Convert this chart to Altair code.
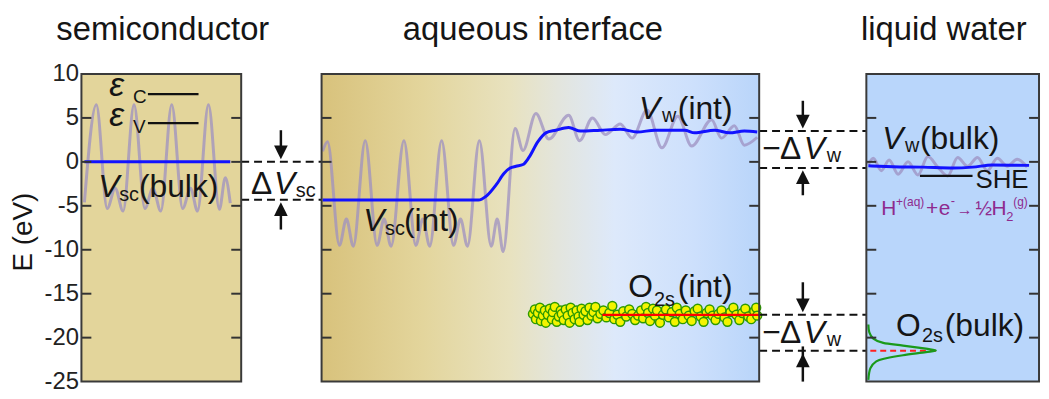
import altair as alt
import pandas as pd

FONT = "Liberation Sans"

# ---------------- data ----------------
tick_values = [10, 5, 0, -5, -10, -15, -20, -25]
inner_ticks = [5, 0, -5, -10, -15, -20]

# panel extents along the schematic position axis
panel_x0 = [82, 324, 873]
panel_x1 = [243, 765, 1047]

# semiconductor bulk: oscillating potential and its average
sc_osc_x = [85, 97, 108, 116, 124, 135, 146, 154, 162, 173, 184, 192, 199, 210, 221, 227, 232]
sc_osc_e = [-4.6, 6.5, -5.3, -3.0, -5.6, 6.5, -5.3, -3.0, -5.6, 6.5, -5.3, -3.0, -5.6, 6.5, -5.4, -1.8, -4.7]
sc_avg_x = [85, 232]
sc_avg_e = [0.0, 0.0]

# aqueous interface
int_osc_x = [325, 330, 342, 349, 356, 368, 380, 387, 394, 407, 419, 426, 433, 445, 457, 464, 471,
             483, 495, 501, 507, 519, 527, 540, 553, 573, 584, 597, 610, 625, 637, 652, 667, 683,
             697, 717, 727, 740, 750, 763]
int_osc_e = [1.2, 2.3, -9.5, -6.5, -9.6, 2.4, -9.5, -6.5, -9.6, 2.4, -9.5, -6.5, -9.6, 2.4, -9.5, -6.5, -9.6,
             2.4, -9.6, -6.5, -10.2, 3.8, 1.3, 5.5, 2.6, 5.3, 2.4, 5.0, 3.1, 4.3, 2.7, 5.9, 1.6, 5.2,
             1.8, 4.8, 2.7, 4.1, 1.9, 2.8]
int_avg_x = [325, 482, 490, 500, 508, 514, 520, 527, 533, 542, 550, 560, 573, 585, 605, 625, 642, 660,
             690, 700, 720, 735, 750, 763]
int_avg_e = [-4.35, -4.35, -3.9, -2.6, -1.3, -0.7, -0.5, -0.3, 0.5, 2.3, 3.3, 3.6, 3.9, 3.5, 3.6, 3.7,
             3.4, 3.6, 3.6, 3.3, 3.6, 3.3, 3.5, 3.4]

# liquid water bulk
w_osc_x = [875, 880, 888, 896, 905, 915, 925, 935, 945, 955, 965, 975, 985, 995, 1005, 1015, 1025, 1035]
w_osc_e = [-0.3, 0.4, -1.0, 0.2, -1.4, 0.0, -1.5, 0.6, -0.6, -1.6, 0.5, -0.5, 0.5, -1.0, 0.4, -0.5, 0.3, -0.6]
w_avg_x = [875, 900, 930, 960, 980, 1000, 1037]
w_avg_e = [-0.45, -0.55, -0.6, -0.7, -0.6, -0.35, -0.4]

# O2s levels at the interface (scattered points)
dot_x = [537, 539, 540, 542, 544, 545, 547, 549, 550, 552, 554, 556, 557, 559, 561, 563, 565, 566, 568,
         570, 572, 574, 575, 577, 579, 581, 583, 584, 586, 588, 590, 592, 594, 596, 598, 600, 602, 605,
         608, 611, 614, 617, 619, 622, 625, 628, 631, 634, 637, 640, 643, 646, 648, 651, 653, 655, 658,
         660, 662, 665, 668, 671, 674, 677, 680, 682, 685, 688, 691, 694, 697, 700, 703, 706, 709, 712,
         715, 718, 721, 724, 727, 730, 733, 736, 739, 742, 745, 748, 751, 754, 757, 760, 762, 763]
dot_e = [-17.3, -16.8, -17.9, -17.2, -16.6, -18.1, -17.5, -16.9, -18.3, -17.4, -16.7, -17.9, -17.1, -16.5,
         -18.2, -17.6, -16.9, -17.3, -18.0, -16.8, -17.5, -18.3, -16.6, -17.2, -17.9, -16.9, -17.6, -18.2,
         -16.7, -17.4, -17.0, -18.0, -16.6, -17.5, -17.1, -16.5, -17.8, -17.3, -16.9, -17.7, -17.2, -16.4,
         -17.9, -17.4, -18.2, -17.0, -17.6, -16.8, -17.3, -18.0, -17.5, -16.9, -17.8, -16.5, -17.2, -18.1,
         -16.7, -17.5, -16.9, -18.3, -17.4, -16.8, -17.7, -17.1, -18.2, -16.6, -17.3, -17.9, -16.9, -17.5,
         -18.1, -17.0, -16.7, -17.6, -18.2, -17.2, -16.8, -17.5, -18.0, -17.3, -16.9, -17.7, -18.2, -17.1,
         -16.6, -17.4, -18.0, -17.2, -16.7, -17.6, -17.9, -17.0, -16.6, -17.5]
o2s_int_level = -17.4

# O2s bulk peak (profile drawn against the left edge of the water panel)
g_e = [-18.5, -19.4, -20.1, -20.6, -20.9, -21.25, -21.45, -21.65, -22.0, -22.35, -22.7, -23.5, -24.8]
g_x = [875, 876, 880, 890, 910, 933, 943, 933, 910, 893, 883, 877, 875]
o2s_bulk_level = -21.5

# alignment levels
vsc_bulk, vsc_int = 0.0, -4.3
vw_int, vw_bulk = 3.5, -0.7
she_level = -1.6
eps_c, eps_v = 7.7, 4.4

# ---------------- scales ----------------
xs = alt.Scale(domain=[82, 1047], nice=False, zero=False)
ys = alt.Scale(domain=[-25, 10], nice=False, zero=False)

yaxis = alt.Axis(values=tick_values, labelFontSize=24, labelFont=FONT, labelColor="#222",
                 ticks=False, domain=False, grid=False, title=None, labelPadding=3,
                 labelExpr="datum.value < 0 ? '-' + abs(datum.value) : '' + datum.value")


def X(f="x"):
    return alt.X(f"{f}:Q", scale=xs, axis=None)


def Y(f="e"):
    return alt.Y(f"{f}:Q", scale=ys, axis=yaxis)


# backgrounds
bg = pd.DataFrame({"x0": [panel_x0[0], panel_x0[2]], "x1": [panel_x1[0], panel_x1[2]],
                   "fill": ["#e3d59b", "#b9d6fb"], "lo": [-25, -25], "hi": [10, 10]})
bg_layer = alt.Chart(bg).mark_rect().encode(
    x=X("x0"), x2="x1:Q", y=Y("lo"), y2="hi:Q", fill=alt.Fill("fill:N", scale=None))

grad = alt.LinearGradient(
    gradient="linear", x1=0, x2=1, y1=0, y2=0,
    stops=[alt.GradientStop(color="#d8c27c", offset=0),
           alt.GradientStop(color="#e3d59c", offset=0.23),
           alt.GradientStop(color="#e8e2bf", offset=0.43),
           alt.GradientStop(color="#e3e5dd", offset=0.54),
           alt.GradientStop(color="#dde9fb", offset=0.67),
           alt.GradientStop(color="#cde0fc", offset=0.85),
           alt.GradientStop(color="#b9d5fa", offset=1)])
mid = pd.DataFrame({"x0": [panel_x0[1]], "x1": [panel_x1[1]], "lo": [-25], "hi": [10]})
mid_layer = alt.Chart(mid).mark_rect(fill=grad).encode(x=X("x0"), x2="x1:Q", y=Y("lo"), y2="hi:Q")

# curves
rows = []
for seg, xx, ee, col in [("sc_osc", sc_osc_x, sc_osc_e, "gray"), ("int_osc", int_osc_x, int_osc_e, "gray"),
                         ("w_osc", w_osc_x, w_osc_e, "gray"), ("sc_avg", sc_avg_x, sc_avg_e, "blue"),
                         ("int_avg", int_avg_x, int_avg_e, "blue"), ("w_avg", w_avg_x, w_avg_e, "blue")]:
    for i, (a, b) in enumerate(zip(xx, ee)):
        rows.append({"seg": seg, "i": i, "x": a, "e": b, "kind": col})
curves = pd.DataFrame(rows)
gray_layer = alt.Chart(curves[curves.kind == "gray"]).mark_line(
    interpolate="monotone", color="#9d90c2", strokeWidth=3, opacity=0.75).encode(
    x=X(), y=Y(), detail="seg:N", order="i:Q")
blue_layer = alt.Chart(curves[curves.kind == "blue"]).mark_line(
    interpolate="monotone", color="#1212ff", strokeWidth=3).encode(
    x=X(), y=Y(), detail="seg:N", order="i:Q")

# dots
dots = pd.DataFrame({"x": dot_x, "e": dot_e})
dot_layer = alt.Chart(dots).mark_point(shape="circle", filled=True, fill="#f4f400", stroke="#2e9a00",
                                       strokeWidth=1.5, size=80, opacity=1).encode(x=X(), y=Y())

# solid level lines
lv = pd.DataFrame({"x": [607, 927, 149, 149], "x2": [765, 980, 200, 200],
                   "e": [o2s_int_level, she_level, eps_c, eps_v],
                   "c": ["#ff0000", "#111111", "#111111", "#111111"]})
lv_layer = alt.Chart(lv).mark_rule(strokeWidth=2.2).encode(
    x=X(), x2="x2:Q", y=Y(), color=alt.Color("c:N", scale=None))

red_dash = pd.DataFrame({"x": [877], "x2": [943], "e": [o2s_bulk_level]})
red_dash_layer = alt.Chart(red_dash).mark_rule(strokeWidth=2, strokeDash=[6, 4], color="#ff2020").encode(
    x=X(), x2="x2:Q", y=Y())

gauss = pd.DataFrame({"x": g_x, "e": g_e, "i": list(range(len(g_x)))})
gauss_layer = alt.Chart(gauss).mark_line(interpolate="cardinal", color="#1a9a1a", strokeWidth=2.2).encode(
    x=X(), y=Y(), order="i:Q")

# dashed alignment lines
dl = pd.DataFrame({"x": [243, 243, 765, 765, 765, 765], "x2": [324, 324, 873, 873, 873, 873],
                   "e": [vsc_bulk, vsc_int, vw_int, vw_bulk, o2s_int_level, o2s_bulk_level]})
dash_layer = alt.Chart(dl).mark_rule(strokeWidth=2, strokeDash=[8, 5], color="#111").encode(
    x=X(), x2="x2:Q", y=Y())

# arrows
shafts = pd.DataFrame({"x": [283, 283, 809, 809, 809, 809],
                       "e": [3.6, -7.7, 6.95, -3.8, -13.7, -25.0],
                       "e2": [1.2, -5.5, 4.8, -2.0, -16.0, -21.0]})
shaft_layer = alt.Chart(shafts).mark_rule(strokeWidth=2.5, color="#111").encode(x=X(), y=Y(), y2="e2:Q")
heads_dn = pd.DataFrame({"x": [283, 809, 809], "e": [0.3, 3.8, -17.1]})
heads_up = pd.DataFrame({"x": [283, 809, 809], "e": [-4.6, -0.95, -21.8]})
hd_layer = alt.Chart(heads_dn).mark_point(shape="M-1,-2L1,-2L0,0Z", filled=True, size=190,
                                          color="#111", opacity=1).encode(x=X(), y=Y())
hu_layer = alt.Chart(heads_up).mark_point(shape="M-1,2L1,2L0,0Z", filled=True, size=190,
                                          color="#111", opacity=1).encode(x=X(), y=Y())

# panel ticks and borders
trows = []
for x0, x1 in zip(panel_x0, panel_x1):
    for v in inner_ticks:
        trows.append({"x": x0, "x2": x0 + 10, "e": v})
        trows.append({"x": x1 - 10, "x2": x1, "e": v})
ticks = pd.DataFrame(trows)
tick_layer = alt.Chart(ticks).mark_rule(strokeWidth=2, color="#333").encode(x=X(), x2="x2:Q", y=Y())

borders = pd.DataFrame({"x0": panel_x0, "x1": panel_x1, "lo": [-25] * 3, "hi": [10] * 3})
border_layer = alt.Chart(borders).mark_rect(filled=False, stroke="#3a3a3a", strokeWidth=2).encode(
    x=X("x0"), x2="x1:Q", y=Y("lo"), y2="hi:Q")

# ---------------- annotations ----------------
K = "#151515"
P = "#8e2a8e"
ann = [
    # text, x, E, size, italic, color
    ("ε", 110, 7.5, 34, True, K), ("C", 134, 6.7, 19, False, K),
    ("ε", 110, 4.1, 34, True, K), ("V", 134, 3.3, 19, False, K),
    ("V", 99, -3.96, 32, True, K), ("sc", 120, -4.4, 20, False, K), ("(bulk)", 140, -3.96, 32, False, K),
    ("Δ", 253, -3.65, 32, False, K), ("V", 276, -3.65, 32, True, K), ("sc", 298, -3.95, 20, False, K),
    ("V", 644, 4.9, 32, True, K), ("w", 667, 4.5, 20, False, K), ("(int)", 683, 4.9, 32, False, K),
    ("V", 366, -7.9, 32, True, K), ("sc", 388, -8.3, 20, False, K), ("(int)", 407, -7.9, 32, False, K),
    ("O", 633, -15.4, 32, False, K), ("2s", 659, -16.4, 20, False, K), ("(int)", 683, -15.4, 32, False, K),
    ("−", 768, 0.37, 32, False, K), ("Δ", 786, 0.37, 32, False, K), ("V", 810, 0.37, 32, True, K),
    ("w", 833, 0.0, 20, False, K),
    ("−", 768, -20.6, 32, False, K), ("Δ", 786, -20.6, 32, False, K), ("V", 810, -20.6, 32, True, K),
    ("w", 833, -21.0, 20, False, K),
    ("V", 889, 1.5, 32, True, K), ("w", 912, 1.1, 20, False, K), ("(bulk)", 927, 1.5, 32, False, K),
    ("SHE", 983, -3.0, 26, False, K),
    ("O", 903, -19.8, 32, False, K), ("2s", 929, -20.5, 20, False, K), ("(bulk)", 952, -19.8, 32, False, K),
    ("H", 888, -6.0, 21, False, P), ("+(aq)", 903, -5.0, 12, False, P), ("+", 933, -6.0, 21, False, P),
    ("e", 946, -6.0, 21, False, P), ("-", 958, -4.9, 13, False, P), ("→", 964, -6.0, 16, False, P),
    ("½", 983, -6.0, 20, False, P), ("H", 999, -6.0, 21, False, P), ("2", 1014, -6.7, 13, False, P),
    ("(g)", 1021, -5.0, 12, False, P),
]
ann_df = pd.DataFrame(ann, columns=["text", "x", "e", "size", "italic", "color"])


def text_layer(df, italic):
    return alt.Chart(df).mark_text(align="left", baseline="alphabetic", font=FONT,
                                   fontStyle="italic" if italic else "normal").encode(
        x=X(), y=Y(), text="text:N", size=alt.Size("size:Q", scale=None),
        color=alt.Color("color:N", scale=None))


txt_n = text_layer(ann_df[~ann_df.italic], False)
txt_i = text_layer(ann_df[ann_df.italic], True)

titles = pd.DataFrame({"text": ["semiconductor", "aqueous interface", "liquid water"],
                       "x": [164, 537, 951], "e": [13.9, 13.9, 13.9]})
title_layer = alt.Chart(titles).mark_text(align="center", baseline="alphabetic", font=FONT,
                                          fontSize=33, color=K).encode(x=X(), y=Y(), text="text:N")

ytitle = pd.DataFrame({"text": ["E (eV)"], "x": [24], "e": [-8.0]})
ytitle_layer = alt.Chart(ytitle).mark_text(align="center", baseline="middle", font=FONT, fontSize=28,
                                           angle=270, color=K).encode(x=X(), y=Y(), text="text:N")

chart = alt.layer(
    bg_layer, mid_layer, gray_layer, blue_layer, dot_layer, lv_layer, red_dash_layer, gauss_layer,
    dash_layer, shaft_layer, hd_layer, hu_layer, tick_layer, border_layer,
    txt_n, txt_i, title_layer, ytitle_layer
).properties(
    width=965, height=310,
    padding={"left": 74, "top": 65, "right": 2, "bottom": 8},
    autosize=alt.AutoSizeParams(type="none"),
    background="white",
).configure_view(strokeWidth=0)

chart.save("out.html", embed_options={"renderer": "svg", "actions": False})
